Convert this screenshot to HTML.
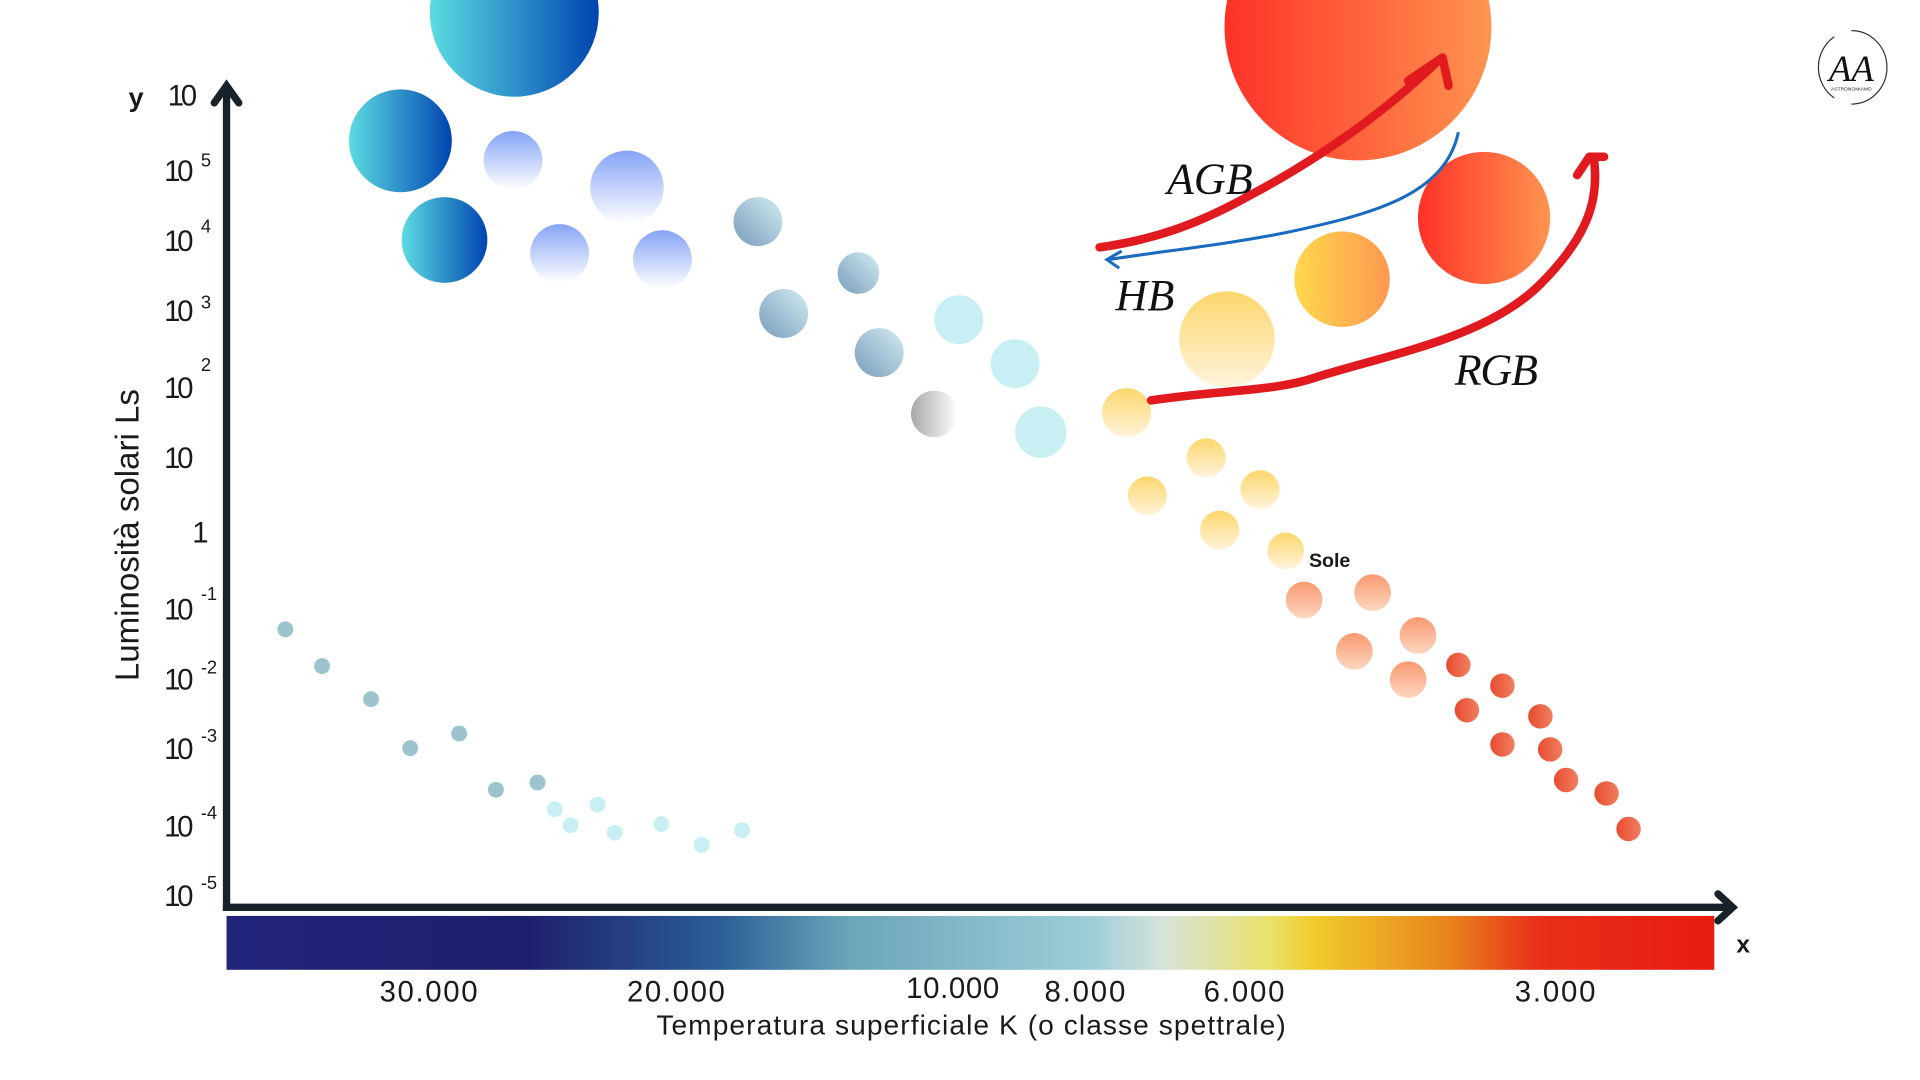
<!DOCTYPE html>
<html><head><meta charset="utf-8"><style>
html,body{margin:0;padding:0;background:#fff;width:1920px;height:1080px;overflow:hidden}
svg{display:block}
.t{font-family:"Liberation Sans",sans-serif;fill:#1a1a1a}
</style></head><body>
<svg width="1920" height="1080" viewBox="0 0 1568 882" preserveAspectRatio="none" xmlns="http://www.w3.org/2000/svg">
<defs>
<linearGradient id="bar" x1="0" x2="1">
<stop offset="0" stop-color="#20247a"/><stop offset="0.2" stop-color="#1e1f6e"/>
<stop offset="0.33" stop-color="#2a5d96"/><stop offset="0.42" stop-color="#6ca6b9"/>
<stop offset="0.58" stop-color="#9ccdd8"/><stop offset="0.63" stop-color="#d6e3da"/>
<stop offset="0.7" stop-color="#e9e26c"/><stop offset="0.73" stop-color="#f0cc2c"/>
<stop offset="0.82" stop-color="#e8861c"/><stop offset="0.88" stop-color="#e8301a"/>
<stop offset="1" stop-color="#e81c10"/></linearGradient>
<linearGradient id="blue" x1="0" x2="1"><stop offset="0" stop-color="#5cdce2"/><stop offset="1" stop-color="#0044b0"/></linearGradient>
<linearGradient id="peri" x1="0" y1="0" x2="0" y2="1"><stop offset="0" stop-color="#86a4f6"/><stop offset="1" stop-color="#ffffff"/></linearGradient>
<linearGradient id="steel" x1="0" y1="1" x2="1" y2="0"><stop offset="0" stop-color="#7a9cbc"/><stop offset="1" stop-color="#d2ecf2"/></linearGradient>
<linearGradient id="gray" x1="0" x2="1"><stop offset="0" stop-color="#a8a8a8"/><stop offset="1" stop-color="#ffffff"/></linearGradient>
<linearGradient id="yel" x1="0" y1="0" x2="0" y2="1"><stop offset="0" stop-color="#fcd66c"/><stop offset="1" stop-color="#fff4dc"/></linearGradient>
<linearGradient id="oy" x1="0" x2="1"><stop offset="0" stop-color="#ffd84e"/><stop offset="1" stop-color="#ff9850"/></linearGradient>
<linearGradient id="red" x1="0" x2="1"><stop offset="0" stop-color="#ff3228"/><stop offset="1" stop-color="#ff9450"/></linearGradient>
<linearGradient id="peach" x1="0" y1="0" x2="0" y2="1"><stop offset="0" stop-color="#f89a70"/><stop offset="1" stop-color="#fdd6c0"/></linearGradient>
<linearGradient id="rd" x1="0" x2="1"><stop offset="0" stop-color="#e84a30"/><stop offset="1" stop-color="#f08060"/></linearGradient>
</defs>

<circle cx="420" cy="10" r="69" fill="url(#blue)"/>
<circle cx="327" cy="115" r="42" fill="url(#blue)"/>
<circle cx="363" cy="196" r="35" fill="url(#blue)"/>
<circle cx="419" cy="131" r="24" fill="url(#peri)"/>
<circle cx="512" cy="153" r="30" fill="url(#peri)"/>
<circle cx="457" cy="207" r="24" fill="url(#peri)"/>
<circle cx="541" cy="212" r="24" fill="url(#peri)"/>
<circle cx="619" cy="181" r="20" fill="url(#steel)"/>
<circle cx="701" cy="223" r="17" fill="url(#steel)"/>
<circle cx="640" cy="256" r="20" fill="url(#steel)"/>
<circle cx="718" cy="288" r="20" fill="url(#steel)"/>
<circle cx="763" cy="338" r="19" fill="url(#gray)"/>
<circle cx="783" cy="261" r="20" fill="#c8f0f4"/>
<circle cx="829" cy="297" r="20" fill="#c8f0f4"/>
<circle cx="850" cy="353" r="21" fill="#c8f0f4"/>
<circle cx="920" cy="337" r="20" fill="url(#yel)"/>
<circle cx="985" cy="374" r="16" fill="url(#yel)"/>
<circle cx="937" cy="405" r="16" fill="url(#yel)"/>
<circle cx="1029" cy="400" r="16" fill="url(#yel)"/>
<circle cx="996" cy="433" r="16" fill="url(#yel)"/>
<circle cx="1050" cy="450" r="15" fill="url(#yel)"/>
<circle cx="1002" cy="277" r="39" fill="url(#yel)"/>
<circle cx="1096" cy="228" r="39" fill="url(#oy)"/>
<circle cx="1212" cy="178" r="54" fill="url(#red)"/>
<circle cx="1109" cy="22" r="109" fill="url(#red)"/>
<g fill="url(#peach)">
<circle cx="1065" cy="490" r="15"/><circle cx="1121" cy="484" r="15"/><circle cx="1158" cy="519" r="15"/>
<circle cx="1106" cy="532" r="15"/><circle cx="1150" cy="555" r="15"/></g>
<g fill="url(#rd)">
<circle cx="1191" cy="543" r="10"/><circle cx="1227" cy="560" r="10"/><circle cx="1198" cy="580" r="10"/>
<circle cx="1258" cy="585" r="10"/><circle cx="1227" cy="608" r="10"/><circle cx="1266" cy="612" r="10"/>
<circle cx="1279" cy="637" r="10"/><circle cx="1312" cy="648" r="10"/><circle cx="1330" cy="677" r="10"/></g>
<g fill="#9cc4cc">
<circle cx="233" cy="514" r="6.5"/><circle cx="263" cy="544" r="6.5"/><circle cx="303" cy="571" r="6.5"/>
<circle cx="335" cy="611" r="6.5"/><circle cx="375" cy="599" r="6.5"/><circle cx="405" cy="645" r="6.5"/><circle cx="439" cy="639" r="6.5"/></g>
<g fill="#c8f0f4">
<circle cx="453" cy="661" r="6.5"/><circle cx="466" cy="674" r="6.5"/><circle cx="488" cy="657" r="6.5"/>
<circle cx="502" cy="680" r="6.5"/><circle cx="540" cy="673" r="6.5"/><circle cx="573" cy="690" r="6.5"/><circle cx="606" cy="678" r="6.5"/></g>
<text x="1069" y="463" class="t" font-size="16" font-weight="bold" fill="#111">Sole</text>

<path d="M898,202 C940,196 975,185 1020,160 C1080,128 1130,92 1172,52" fill="none" stroke="#e01a1e" stroke-width="7" stroke-linecap="round"/>
<path d="M1150,66 L1178,47 L1183,70" fill="none" stroke="#e01a1e" stroke-width="7" stroke-linecap="round" stroke-linejoin="round"/>
<path d="M940,327 C1000,318 1040,320 1075,308 C1140,288 1215,275 1258,232 C1300,190 1305,160 1302,132" fill="none" stroke="#e01a1e" stroke-width="7" stroke-linecap="round"/>
<path d="M1288,143 L1298,128 L1310,128" fill="none" stroke="#e01a1e" stroke-width="7" stroke-linecap="round" stroke-linejoin="round"/>
<path d="M1191,108 C1180,160 1120,175 1050,190 C1000,200 950,205 905,212" fill="none" stroke="#1a6ac0" stroke-width="2.5"/>
<path d="M916,205 L904,212 L914,219" fill="none" stroke="#1a6ac0" stroke-width="2.5"/>
<g font-family="'Liberation Serif',serif" font-style="italic" font-size="36" fill="#111">
<text x="953" y="158" textLength="70">AGB</text><text x="911" y="253" textLength="48">HB</text><text x="1188" y="314" textLength="68">RGB</text></g>

<rect x="185" y="748" width="1215" height="44" fill="url(#bar)"/>
<line x1="185" y1="72" x2="185" y2="744" stroke="#18222a" stroke-width="6"/>
<line x1="182" y1="741" x2="1412" y2="741" stroke="#18222a" stroke-width="6"/>
<path d="M175,84 L185,70 L195,84" fill="none" stroke="#18222a" stroke-width="6" stroke-linecap="round"/>
<path d="M1403,730 L1415,741 L1403,752" fill="none" stroke="#18222a" stroke-width="6" stroke-linecap="round"/>

<g class="t" font-size="24" fill="#222">
<text x="105" y="87" font-weight="bold" font-size="22">y</text>
<text x="137" y="86" textLength="24">10</text>
<text x="134" y="148" textLength="24">10</text><text x="164" y="136" font-size="15">5</text>
<text x="134" y="205" textLength="24">10</text><text x="164" y="190" font-size="15">4</text>
<text x="134" y="262" textLength="24">10</text><text x="164" y="252" font-size="15">3</text>
<text x="134" y="325" textLength="24">10</text><text x="164" y="303" font-size="15">2</text>
<text x="134" y="382" textLength="24">10</text>
<text x="157" y="443">1</text>
<text x="134" y="506" textLength="24">10</text><text x="164" y="490" font-size="15">-1</text>
<text x="134" y="563" textLength="24">10</text><text x="164" y="550" font-size="15">-2</text>
<text x="134" y="620" textLength="24">10</text><text x="164" y="606" font-size="15">-3</text>
<text x="134" y="683" textLength="24">10</text><text x="164" y="669" font-size="15">-4</text>
<text x="134" y="740" textLength="24">10</text><text x="164" y="726" font-size="15">-5</text>
</g>
<text transform="translate(113,437) rotate(-90)" text-anchor="middle" class="t" font-size="27">Luminosità solari Ls</text>
<g class="t" font-size="24" text-anchor="middle" fill="#222">
<text x="350" y="818" textLength="80">30.000</text><text x="552" y="818" textLength="80">20.000</text><text x="778" y="815" textLength="76">10.000</text>
<text x="886" y="818" textLength="66">8.000</text><text x="1016" y="818" textLength="66">6.000</text><text x="1270" y="818" textLength="66">3.000</text>
<text x="793" y="845" font-size="23" textLength="514">Temperatura superficiale K (o classe spettrale)</text>
</g>
<text x="1418" y="778" class="t" font-size="20" font-weight="bold">x</text>

<path d="M1512,25 A29,30 0 0 1 1512,85 M1498,30 A29,30 0 0 0 1498,80" fill="none" stroke="#333" stroke-width="1"/>
<text x="1512" y="66" text-anchor="middle" font-family="'Liberation Serif',serif" font-style="italic" font-size="30" fill="#111">AA</text>
<text x="1512" y="74" text-anchor="middle" class="t" font-size="4">ASTRONOMIAMO</text>
</svg>
</body></html>
